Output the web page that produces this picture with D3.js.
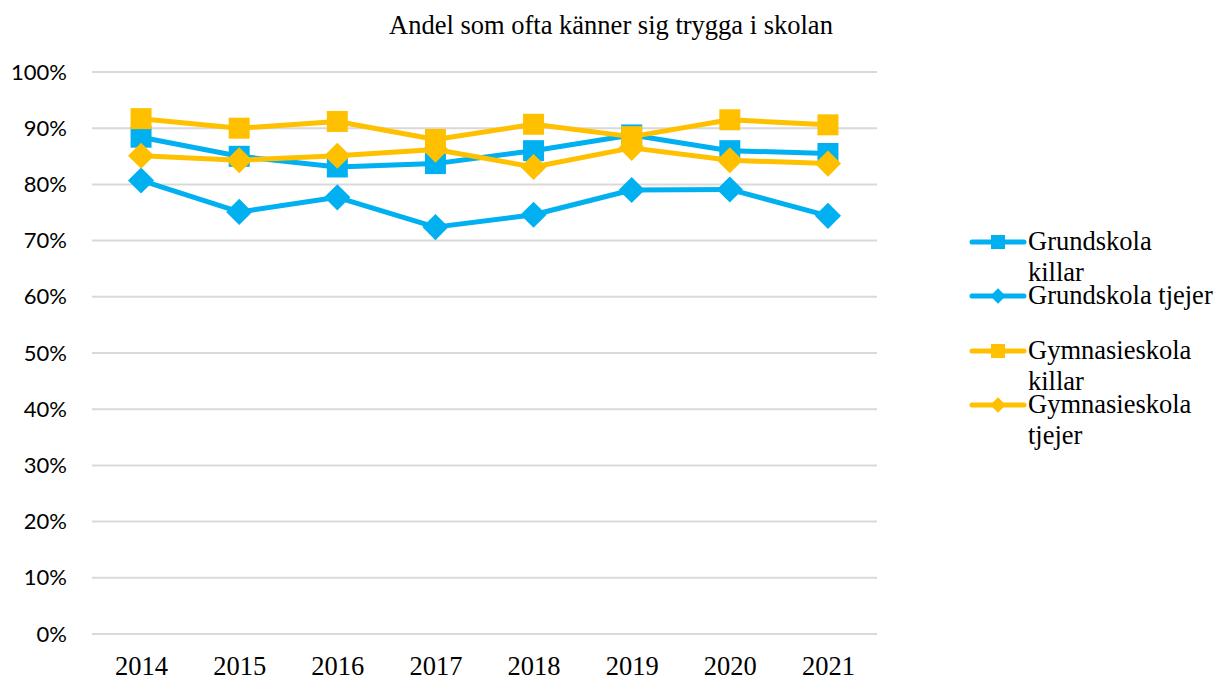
<!DOCTYPE html>
<html><head><meta charset="utf-8">
<script src="https://cdn.jsdelivr.net/npm/d3@7"></script>
<style>body{margin:0;background:#fff}</style>
</head><body>
<svg id="c" width="1217" height="675"></svg>
<script>
const years = ["2014","2015","2016","2017","2018","2019","2020","2021"];
const grundKillar = [0.884, 0.850, 0.831, 0.837, 0.860, 0.888, 0.860, 0.855];
const grundTjejer = [0.807, 0.751, 0.777, 0.724, 0.746, 0.790, 0.791, 0.744];
const gymKillar   = [0.917, 0.900, 0.912, 0.880, 0.907, 0.885, 0.915, 0.906];
const gymTjejer   = [0.851, 0.843, 0.851, 0.862, 0.831, 0.865, 0.843, 0.837];
const seriesNames = [["Grundskola","killar"],["Grundskola tjejer"],["Gymnasieskola","killar"],["Gymnasieskola","tjejer"]];
const yTicks = [0,0.1,0.2,0.3,0.4,0.5,0.6,0.7,0.8,0.9,1.0];
const title = "Andel som ofta känner sig trygga i skolan";

const BLUE = "#00B0F0", ORANGE = "#FFC000";
const series = [
  {name: seriesNames[0], values: grundKillar, color: BLUE, shape: "square"},
  {name: seriesNames[1], values: grundTjejer, color: BLUE, shape: "diamond"},
  {name: seriesNames[2], values: gymKillar, color: ORANGE, shape: "square"},
  {name: seriesNames[3], values: gymTjejer, color: ORANGE, shape: "diamond"}
];

const svg = d3.select("#c");
const x = d3.scalePoint().domain(years).range([92, 877]).padding(0.5);
const y = d3.scaleLinear().domain([0, 1]).range([634, 72]);
const serif = "'Liberation Serif','Times New Roman',serif";
const sans = "Lato, 'Liberation Sans', sans-serif";

svg.append("text").attr("x", 611).attr("y", 34).attr("text-anchor", "middle")
  .attr("font-family", serif).attr("font-size", 26.5).attr("fill", "#000").text(title);

// grid
svg.append("g").selectAll("line").data(yTicks).join("line")
  .attr("x1", 92).attr("x2", 877).attr("y1", d => y(d)).attr("y2", d => y(d))
  .attr("stroke", "#d9d9d9").attr("stroke-width", 2);

const yAxis = svg.append("g").attr("transform", "translate(92,0)")
  .call(d3.axisLeft(y).tickValues(yTicks).tickFormat(d3.format(".0%")).tickSize(0).tickPadding(25));
yAxis.select(".domain").remove();
yAxis.selectAll("text").attr("font-family", sans).attr("font-size", 22).attr("fill", "#000");

const xAxis = svg.append("g").attr("transform", "translate(0,634)")
  .call(d3.axisBottom(x).tickSize(0).tickPadding(22));
xAxis.select(".domain").remove();
xAxis.selectAll("text").attr("font-family", serif).attr("font-size", 26.5).attr("fill", "#000");

const sq = d3.symbol().type(d3.symbolSquare);
function markerPath(shape) {
  if (shape === "square") return sq.size(21*21)();
  return sq.size(18.5*18.5)();
}
const line = d3.line().x((d, i) => x(years[i])).y(d => y(d));

series.forEach(s => {
  const g = svg.append("g");
  g.append("path").datum(s.values).attr("d", line).attr("fill", "none")
    .attr("stroke", s.color).attr("stroke-width", 5).attr("stroke-linejoin", "round");
  g.selectAll("path.m").data(s.values).join("path").attr("class", "m")
    .attr("d", markerPath(s.shape))
    .attr("transform", (d, i) => `translate(${x(years[i])},${y(d)})` + (s.shape === "diamond" ? " rotate(45)" : ""))
    .attr("fill", s.color);
});

// legend
const legY = [242, 296, 351, 405];
series.forEach((s, i) => {
  const g = svg.append("g").attr("transform", `translate(0,${legY[i]})`);
  g.append("line").attr("x1", 972).attr("x2", 1024).attr("y1", 0).attr("y2", 0)
    .attr("stroke", s.color).attr("stroke-width", 5).attr("stroke-linecap", "round");
  g.append("path").attr("d", s.shape === "square" ? sq.size(14*14)() : sq.size(11*11)())
    .attr("transform", `translate(998,0)` + (s.shape === "diamond" ? " rotate(45)" : ""))
    .attr("fill", s.color);
  const t = g.append("text").attr("x", 1028).attr("y", 8)
    .attr("font-family", serif).attr("font-size", 26.5).attr("fill", "#000");
  s.name.forEach((n, k) => t.append("tspan").attr("x", 1028).attr("dy", k === 0 ? 0 : 31).text(n));
});
</script>
</body></html>
